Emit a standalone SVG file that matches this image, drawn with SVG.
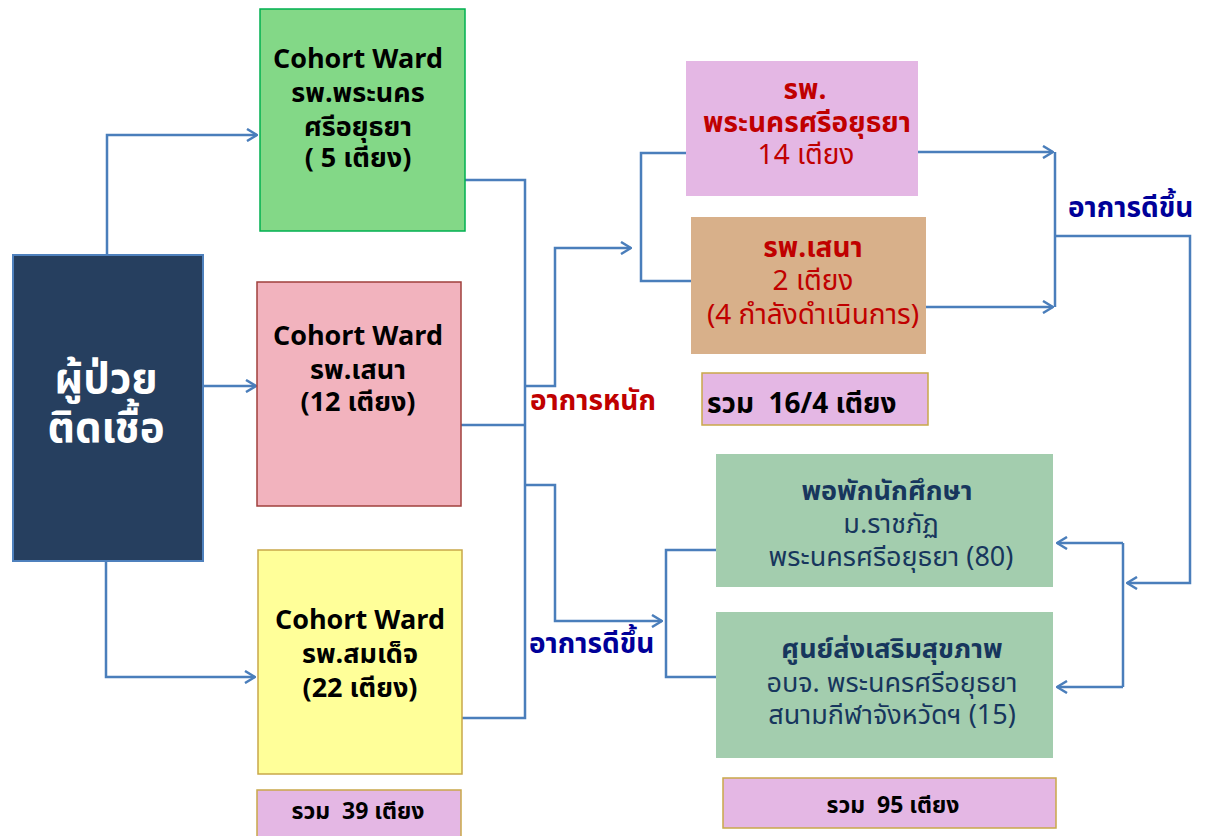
<svg xmlns="http://www.w3.org/2000/svg" width="1217" height="836" viewBox="0 0 1217 836">
<defs>
<marker id="arr" viewBox="0 0 12 14" refX="11" refY="7" markerWidth="12" markerHeight="14" markerUnits="userSpaceOnUse" orient="auto">
<path d="M1,1 L11,7 L1,13" fill="none" stroke="#4a7ebb" stroke-width="2.5"/>
</marker>
</defs>
<style>
text{font-family:"Tahoma","Noto Sans Thai","Noto Sans","DejaVu Sans",sans-serif;text-anchor:middle;white-space:pre}
.b{font-weight:bold}
.blk{fill:#000;font-size:27px}
.red{fill:#c00000;font-size:28px}
.nv{fill:#17365d;font-size:27px}
.sum{fill:#000;font-size:23px;font-weight:bold}
.lbl{font-weight:bold;font-size:28px;text-anchor:start}
.c{fill:none;stroke:#4a7ebb;stroke-width:2.5}
</style>
<rect width="1217" height="836" fill="#fff"/>
<g id="connectors" class="c">
<polyline points="107,255 107,135 257,135" marker-end="url(#arr)"/>
<polyline points="203,386 256,386" marker-end="url(#arr)"/>
<polyline points="106,561 106,677 255,677" marker-end="url(#arr)"/>
<polyline points="465,180 525,180 525,718 462,718"/>
<line x1="461" y1="425" x2="525" y2="425"/>
<polyline points="525,386 555,386 555,248 631,248" marker-end="url(#arr)"/>
<polyline points="525,485 555,485 555,621 662,621" marker-end="url(#arr)"/>
<polyline points="686,153 641,153 641,281 691,281"/>
<polyline points="918,152 1053,152" marker-end="url(#arr)"/>
<polyline points="918,307 1053,307" marker-end="url(#arr)"/>
<line x1="1055" y1="152" x2="1055" y2="307"/>
<polyline points="1055,236 1190,236 1190,583 1127,583" marker-end="url(#arr)"/>
<line x1="1123" y1="543" x2="1123" y2="687"/>
<polyline points="1123,543 1057,543" marker-end="url(#arr)"/>
<polyline points="1123,687 1057,687" marker-end="url(#arr)"/>
<polyline points="716,550 666,550 666,677 716,677"/>
</g>
<g id="patient">
<rect x="13" y="255" width="190" height="306" fill="#263f5f" stroke="#4f81bd" stroke-width="2"/>
<text x="106" y="393" class="b" fill="#fff" font-size="42">ผู้ป่วย</text>
<text x="106" y="442" class="b" fill="#fff" font-size="42">ติดเชื้อ</text>
</g>
<g id="cohort1">
<rect x="260" y="9" width="205" height="222" fill="#83d887" stroke="#00b050" stroke-width="1.5"/>
<text x="358" y="68" class="b blk">Cohort Ward</text>
<text x="358" y="102" class="b blk">รพ.พระนคร</text>
<text x="358" y="136" class="b blk">ศรีอยุธยา</text>
<text x="358" y="167" class="b blk">( 5 เตียง)</text>
</g>
<g id="cohort2">
<rect x="257" y="282" width="204" height="224" fill="#f2b3be" stroke="#a0403d" stroke-width="1.5"/>
<text x="358" y="345" class="b blk">Cohort Ward</text>
<text x="358" y="379" class="b blk">รพ.เสนา</text>
<text x="358" y="411" class="b blk">(12 เตียง)</text>
</g>
<g id="cohort3">
<rect x="258" y="550" width="204" height="224" fill="#ffff99" stroke="#c9a84a" stroke-width="1.5"/>
<text x="360" y="629" class="b blk">Cohort Ward</text>
<text x="360" y="663" class="b blk">รพ.สมเด็จ</text>
<text x="360" y="697" class="b blk">(22 เตียง)</text>
</g>
<g id="sum1">
<rect x="257" y="790" width="204" height="50" fill="#e4b7e4" stroke="#c9a84a" stroke-width="1.5"/>
<text x="358" y="819" class="sum">รวม&#160; 39 เตียง</text>
</g>
<g id="label-severe">
<text x="530" y="410" class="lbl" fill="#c00000">อาการหนัก</text>
</g>
<g id="label-better1">
<text x="529" y="653" class="lbl" fill="#000099">อาการดีขึ้น</text>
</g>
<g id="hosp1">
<rect x="686" y="61" width="232" height="135" fill="#e4b7e4"/>
<text x="805" y="99" class="b red">รพ.</text>
<text x="807" y="132" class="b red">พระนครศรีอยุธยา</text>
<text x="806" y="164" class="red">14 เตียง</text>
</g>
<g id="hosp2">
<rect x="691" y="217" width="235" height="137" fill="#d8b08a"/>
<text x="813" y="257" class="b red">รพ.เสนา</text>
<text x="813" y="290" class="red">2 เตียง</text>
<text x="813" y="324" class="red">(4 กำลังดำเนินการ)</text>
</g>
<g id="sum2">
<rect x="702" y="373" width="226" height="52" fill="#e4b7e4" stroke="#c9a84a" stroke-width="1.5"/>
<text x="707" y="413" class="b" fill="#000" font-size="28" style="text-anchor:start">รวม&#160; 16/4 เตียง</text>
</g>
<g id="label-better2">
<text x="1068" y="217" class="lbl" fill="#000099">อาการดีขึ้น</text>
</g>
<g id="dorm">
<rect x="716" y="454" width="337" height="133" fill="#a3cdae"/>
<text x="887" y="500" class="b nv">พอพักนักศึกษา</text>
<text x="891" y="533" class="nv">ม.ราชภัฏ</text>
<text x="891" y="566" class="nv">พระนครศรีอยุธยา (80)</text>
</g>
<g id="health">
<rect x="716" y="612" width="337" height="146" fill="#a3cdae"/>
<text x="892" y="658" class="b nv">ศูนย์ส่งเสริมสุขภาพ</text>
<text x="892" y="692" class="nv">อบจ. พระนครศรีอยุธยา</text>
<text x="892" y="724" class="nv">สนามกีฬาจังหวัดฯ (15)</text>
</g>
<g id="sum3">
<rect x="723" y="778" width="333" height="50" fill="#e4b7e4" stroke="#c9a84a" stroke-width="1.5"/>
<text x="893" y="813" class="sum">รวม&#160; 95 เตียง</text>
</g>
</svg>
